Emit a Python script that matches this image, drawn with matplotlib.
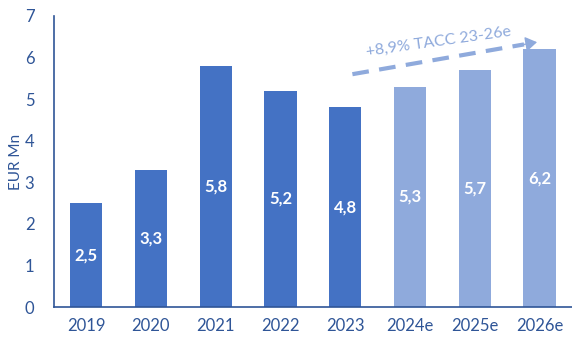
import matplotlib.pyplot as plt
from matplotlib.patches import FancyArrowPatch

years = ["2019", "2020", "2021", "2022", "2023", "2024e", "2025e", "2026e"]
revenue = [2.5, 3.3, 5.8, 5.2, 4.8, 5.3, 5.7, 6.2]
estimated = [False, False, False, False, False, True, True, True]

dark_blue = "#4472C4"
light_blue = "#8FAADC"
text_blue = "#2F5597"

plt.rcParams["font.family"] = ["Lato", "DejaVu Sans"]

fig = plt.figure(figsize=(5.72, 3.40), dpi=100)
ax = fig.add_axes([0.094, 0.097, 0.906, 0.856])

x = list(range(len(years)))
colors = [light_blue if e else dark_blue for e in estimated]
ax.bar(x, revenue, width=0.5, color=colors)

for xi, v in zip(x, revenue):
    ax.text(xi, v / 2, f"{v:.1f}".replace(".", ","), ha="center", va="center",
            color="white", fontsize=12, fontweight="bold")

ax.set_xlim(-0.5, 7.5)
ax.set_ylim(0, 7)
ax.set_xticks(x)
ax.set_xticklabels(years)
ax.set_yticks(range(8))
ax.set_ylabel("EUR Mn", color=text_blue, fontsize=11, labelpad=1)
ax.tick_params(length=0, labelsize=12, labelcolor=text_blue, pad=8)
ax.tick_params(axis="y", pad=14)

for s in ["top", "right"]:
    ax.spines[s].set_visible(False)
for s in ["left", "bottom"]:
    ax.spines[s].set_color(text_blue)
    ax.spines[s].set_linewidth(1.2)

# dashed growth trend line with a solid head at the end
start = (4.11, 5.60)
tip = (6.96, 6.37)
neck = (tip[0] - 0.2, tip[1] - 0.2 * (tip[1] - start[1]) / (tip[0] - start[0]))
ax.plot([start[0], neck[0]], [start[1], neck[1]], color=light_blue, linewidth=3,
        linestyle=(0, (4, 2.5)), solid_capstyle="butt", clip_on=False)
head = FancyArrowPatch(neck, tip, arrowstyle="-|>,head_length=7,head_width=4.5",
                       color=light_blue, linewidth=1, mutation_scale=1,
                       shrinkA=0, shrinkB=0, clip_on=False)
ax.add_patch(head)
ax.text(5.44, 6.37, "+8,9% TACC 23-26e", ha="center", va="center", rotation=8,
        color=light_blue, fontsize=11.5)

fig.savefig("out.png", dpi=100)
